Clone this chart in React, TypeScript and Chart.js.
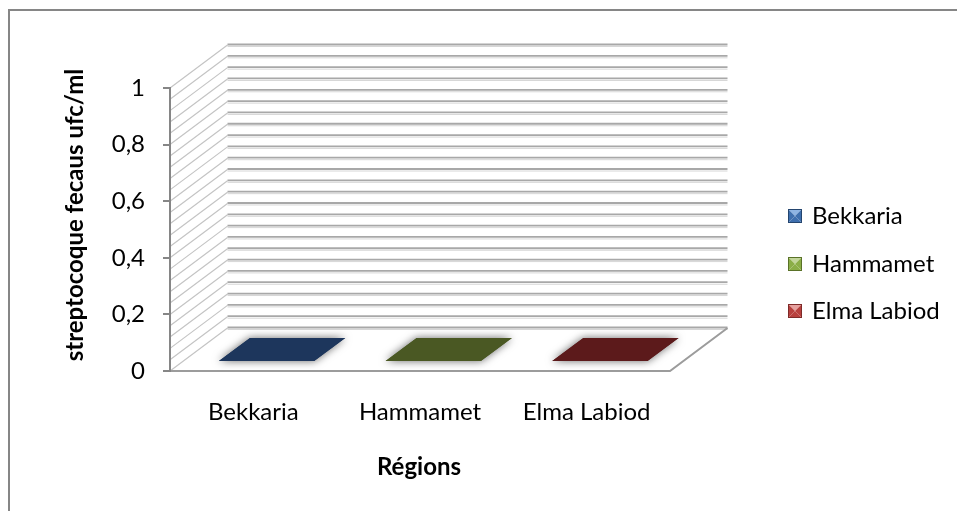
import React, { useEffect, useRef } from "react";
import { Chart, registerables } from "chart.js";

Chart.register(...registerables);

// ---- data ----
const categories = ["Bekkaria", "Hammamet", "Elma Labiod"];
const values = [0, 0, 0];
const yTickValues = [0, 0.2, 0.4, 0.6, 0.8, 1];
const yMinorStep = 0.04;
const yTitle = "streptocoque fecaus ufc/ml";
const xTitle = "Régions";
const barTopColors = ["#1D365C", "#4A5823", "#5C1A1B"];
const legendColors = ["#3E6FAE", "#8BAE47", "#B8403D"];
const legendLight = ["#8EB4E3", "#C3D69B", "#E6A09E"];
const legendDark = ["#24456F", "#5A7228", "#7E2B29"];

const FONT = "Lato, 'Open Sans', sans-serif";
const DX = 57.5;
const DY = -43;

const threeD = {
  id: "threeD",
  beforeDraw(chart: any) {
    const { ctx, chartArea: a, scales } = chart;
    const y = scales.y;
    ctx.save();
    const n = Math.round((y.max - y.min) / yMinorStep);
    for (let i = 0; i <= n; i++) {
      const v = y.min + i * yMinorStep;
      const py = y.getPixelForValue(v);
      ctx.strokeStyle = "#C4C4C4";
      ctx.lineWidth = 1.2;
      ctx.beginPath();
      ctx.moveTo(a.left, py);
      ctx.lineTo(a.left + DX, py + DY);
      ctx.stroke();
      ctx.strokeStyle = "#A8A8A8";
      ctx.lineWidth = 1.8;
      ctx.beginPath();
      ctx.moveTo(a.left + DX, py + DY - 0.5);
      ctx.lineTo(a.right + DX, py + DY - 0.5);
      ctx.stroke();
      ctx.strokeStyle = "#D6D6D6";
      ctx.lineWidth = 1;
      ctx.beginPath();
      ctx.moveTo(a.left + DX, py + DY + 1.5);
      ctx.lineTo(a.right + DX, py + DY + 1.5);
      ctx.stroke();
    }
    const p0 = y.getPixelForValue(0);
    ctx.strokeStyle = "#9C9C9C";
    ctx.lineWidth = 2;
    ctx.beginPath();
    ctx.moveTo(a.left, p0);
    ctx.lineTo(a.right, p0);
    ctx.lineTo(a.right + DX, p0 + DY);
    ctx.stroke();
    ctx.restore();
  },
  afterDatasetsDraw(chart: any) {
    const { ctx } = chart;
    const meta = chart.getDatasetMeta(0);
    const f1 = 0.23;
    const f2 = 0.77;
    meta.data.forEach((bar: any, i: number) => {
      const { x, y, width } = bar.getProps(["x", "y", "width"], true);
      const xl = x - width / 2;
      const xr = x + width / 2;
      const pts = [
        [xl + f1 * DX, y + f1 * DY],
        [xr + f1 * DX, y + f1 * DY],
        [xr + f2 * DX, y + f2 * DY],
        [xl + f2 * DX, y + f2 * DY],
      ];
      const path = () => {
        ctx.beginPath();
        ctx.moveTo(pts[0][0], pts[0][1]);
        for (let k = 1; k < pts.length; k++) ctx.lineTo(pts[k][0], pts[k][1]);
        ctx.closePath();
      };
      ctx.save();
      ctx.shadowColor = "rgba(0,0,0,0.6)";
      ctx.shadowBlur = 9;
      ctx.fillStyle = barTopColors[i];
      path();
      ctx.fill();
      ctx.restore();
      ctx.save();
      ctx.fillStyle = barTopColors[i];
      path();
      ctx.fill();
      ctx.restore();
    });
  },
  afterDraw(chart: any) {
    const { ctx } = chart;
    ctx.save();
    ctx.strokeStyle = "#868686";
    ctx.lineWidth = 2;
    ctx.strokeRect(9, 10, 2000, 2000);

    ctx.fillStyle = "#000";
    ctx.font = `bold 24px ${FONT}`;
    ctx.textAlign = "center";
    ctx.textBaseline = "middle";
    ctx.save();
    ctx.translate(75, 215);
    ctx.rotate(-Math.PI / 2);
    ctx.fillText(yTitle, 0, 0);
    ctx.restore();

    ctx.fillText(xTitle, 419, 467);

    const rows = [216, 264, 311];
    categories.forEach((c, i) => {
      const cy = rows[i];
      const s = 14;
      const sx = 788, sy = cy - s / 2;
      const cx = sx + s / 2, cyy = sy + s / 2;
      const tri = (col: string, ax: number, ay: number, bx: number, by: number) => {
        ctx.fillStyle = col;
        ctx.beginPath();
        ctx.moveTo(ax, ay);
        ctx.lineTo(bx, by);
        ctx.lineTo(cx, cyy);
        ctx.closePath();
        ctx.fill();
      };
      tri(legendLight[i], sx, sy, sx + s, sy);
      tri(legendColors[i], sx + s, sy, sx + s, sy + s);
      tri(legendColors[i], sx, sy, sx, sy + s);
      tri(legendColors[i], sx, sy + s, sx + s, sy + s);
      ctx.strokeStyle = legendDark[i];
      ctx.lineWidth = 1;
      ctx.strokeRect(sx + 0.5, sy + 0.5, s - 1, s - 1);
      ctx.fillStyle = "#000";
      ctx.font = `24px ${FONT}`;
      ctx.textAlign = "left";
      ctx.textBaseline = "middle";
      ctx.fillText(c, 812, cy);
    });
    ctx.restore();
  },
};

export default function App() {
  const ref = useRef<HTMLCanvasElement>(null);
  useEffect(() => {
    if (!ref.current) return;
    const chart = new Chart(ref.current, {
      type: "bar",
      data: {
        labels: categories,
        datasets: [
          {
            label: "streptocoque fecaus",
            data: values,
            backgroundColor: "rgba(0,0,0,0)",
            borderWidth: 0,
            barPercentage: 1 / 1.75,
            categoryPercentage: 1,
          },
        ],
      },
      options: {
        responsive: false,
        animation: false,
        devicePixelRatio: 1,
        layout: { padding: { left: 0, top: 88, right: 287, bottom: 0 } },
        plugins: { legend: { display: false }, tooltip: { enabled: false } },
        scales: {
          x: {
            grid: { display: false, drawTicks: false },
            border: { display: false },
            ticks: { font: { family: FONT, size: 24 }, color: "#000", padding: 27 },
            afterFit: (s: any) => {
              s.height = 140;
            },
          },
          y: {
            min: 0,
            max: 1,
            afterBuildTicks: (s: any) => {
              s.ticks = yTickValues.map((v) => ({ value: v }));
            },
            grid: {
              display: true,
              drawOnChartArea: false,
              drawTicks: true,
              tickLength: 7,
              color: "#868686",
              lineWidth: 2,
            },
            border: { display: true, color: "#868686", width: 2 },
            ticks: {
              font: { family: FONT, size: 24 },
              color: "#000",
              padding: 18,
              callback: (v: any) => String(v).replace(".", ","),
            },
            afterFit: (s: any) => {
              s.width = 170;
            },
          },
        },
      },
      plugins: [threeD],
    });
    return () => chart.destroy();
  }, []);
  return (
    <div style={{ position: "fixed", left: 0, top: 0, width: 957, height: 511, background: "#fff" }}>
      <canvas ref={ref} width={957} height={511} />
    </div>
  );
}
